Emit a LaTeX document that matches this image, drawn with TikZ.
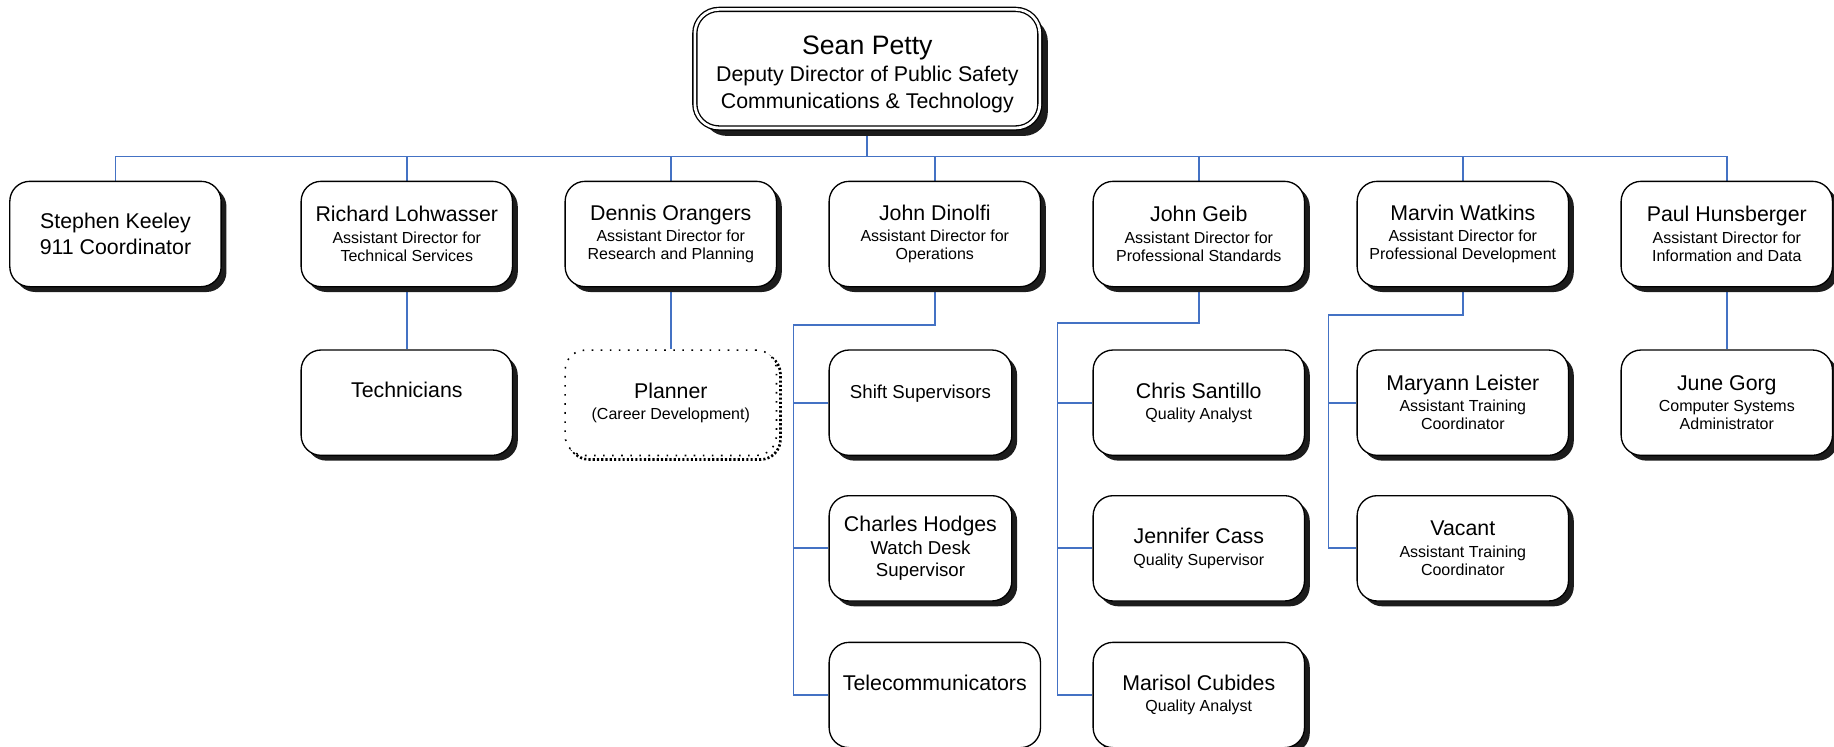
\documentclass[tikz,border=0pt]{standalone}
\usepackage{fontspec}
\setmainfont{Liberation Sans}
\usetikzlibrary{positioning,shadows,backgrounds}
\definecolor{linkcolor}{RGB}{68,114,196}
\definecolor{shadecolor}{RGB}{28,28,28}
\newcommand{\who}[1]{{\fontsize{16}{19}\selectfont #1}}

\begin{document}
\begin{tikzpicture}[
    postbox/.style={rectangle, rounded corners=15pt, draw, line width=1pt, fill=white,
        minimum width=158.5pt, minimum height=79pt, inner sep=0pt, align=center,
        font=\fontsize{12}{13.5}\selectfont},
    unit/.style={postbox,
        drop shadow={fill=shadecolor, opacity=1, shadow xshift=4pt, shadow yshift=-4pt}},
    head/.style={postbox, double, double distance=2pt, rounded corners=18pt,
        minimum width=258.75pt, minimum height=88.9pt, font=\fontsize{16}{20}\selectfont,
        drop shadow={fill=shadecolor, opacity=1, shadow xshift=6pt, shadow yshift=-6pt}},
    planned/.style={postbox, line width=1.2pt, dash pattern=on 1.2pt off 5.6pt,
        general shadow={draw=black, line width=2pt, dash pattern=on 1.6pt off 1.6pt,
        shadow xshift=3pt, shadow yshift=-3pt}},
    link/.style={draw=linkcolor, line width=1.3pt}
    ]

\useasboundingbox (0,0) rectangle (1375.5pt,-559.5pt);

\node[head] (petty) at (650.5pt,-51.5pt) {
	\mbox{}\\[2.4pt]
	{\fontsize{20}{24}\selectfont Sean Petty}\\[0.4pt]
	Deputy Director of Public Safety\\
	Communications \& Technology
};

% assistant directors
\node[unit, font=\fontsize{16}{19}\selectfont] (keeley) at (86.6pt,-175.5pt) {
	Stephen Keeley\\
	911 Coordinator
};
\node[unit] (lohwasser) [right=59pt of keeley] {
	\who{Richard Lohwasser}\\[2.5pt]
	Assistant Director for\\
	Technical Services
};
\node[unit] (orangers) [right=38.5pt of lohwasser] {
	\who{Dennis Orangers}\\[2.5pt]
	Assistant Director for\\
	Research and Planning
};
\node[unit] (dinolfi) [right=38.5pt of orangers] {
	\who{John Dinolfi}\\[2.5pt]
	Assistant Director for\\
	Operations
};
\node[unit] (geib) [right=38.5pt of dinolfi] {
	\who{John Geib}\\[2.5pt]
	Assistant Director for\\
	Professional Standards
};
\node[unit] (watkins) [right=38.5pt of geib] {
	\who{Marvin Watkins}\\[2.5pt]
	Assistant Director for\\
	Professional Development
};
\node[unit] (hunsberger) [right=38.5pt of watkins] {
	\who{Paul Hunsberger}\\[2.5pt]
	Assistant Director for\\
	Information and Data
};

% staff
\node[unit, font=\fontsize{16}{19}\selectfont] (technicians) [below=46.5pt of lohwasser] {
	Technicians\\
	\mbox{}
};
\node[planned] (planner) [below=46.5pt of orangers] {
	\who{Planner}\\[2pt]
	(Career Development)
};
\node[unit, minimum width=137pt, font=\fontsize{14}{17}\selectfont] (shiftsup)
	[below=46.5pt of dinolfi.south west, anchor=north west] {
	Shift Supervisors\\
	\mbox{}
};
\node[unit, minimum width=137pt, font=\fontsize{14}{17}\selectfont] (hodges)
	[below=29.25pt of shiftsup.south west, anchor=north west] {
	\who{Charles Hodges}\\
	Watch Desk\\
	Supervisor
};
\node[postbox, font=\fontsize{16}{19}\selectfont] (telecom)
	[below=30pt of hodges.south west, anchor=north west] {
	Telecommunicators\\
	\mbox{}
};
\node[unit] (santillo) [below=46.5pt of geib] {
	\who{Chris Santillo}\\[2.5pt]
	Quality Analyst
};
\node[unit] (cass) [below=29.25pt of santillo] {
	\who{Jennifer Cass}\\[2.5pt]
	Quality Supervisor
};
\node[unit] (cubides) [below=30pt of cass] {
	\who{Marisol Cubides}\\[2.5pt]
	Quality Analyst
};
\node[unit] (leister) [below=46.5pt of watkins] {
	\who{Maryann Leister}\\[2.5pt]
	Assistant Training\\
	Coordinator
};
\node[unit] (vacant) [below=29.25pt of leister] {
	\who{Vacant}\\[2.5pt]
	Assistant Training\\
	Coordinator
};
\node[unit] (gorg) [below=46.5pt of hunsberger] {
	\who{June Gorg}\\[2.5pt]
	Computer Systems\\
	Administrator
};

\begin{scope}[on background layer]
\coordinate[below=21pt of petty.south] (bus);
\draw[link] (petty.south) -- (bus);
\foreach \n in {keeley,lohwasser,orangers,dinolfi,geib,watkins,hunsberger}
	\draw[link] (bus) -| (\n.north);

\draw[link] (lohwasser.south) -- (technicians.north);
\draw[link] (orangers.south) -- (planner.north);
\draw[link] (hunsberger.south) -- (gorg.north);

\draw[link] (dinolfi.south) -- ++(0,-28.5pt) -| ([xshift=-26.25pt]telecom.west) -- (telecom.west);
\draw[link] ([xshift=-26.25pt]shiftsup.west) -- (shiftsup.west);
\draw[link] ([xshift=-26.25pt]hodges.west) -- (hodges.west);

\draw[link] (geib.south) -- ++(0,-27pt) -| ([xshift=-26.25pt]cubides.west) -- (cubides.west);
\draw[link] ([xshift=-26.25pt]santillo.west) -- (santillo.west);
\draw[link] ([xshift=-26.25pt]cass.west) -- (cass.west);

\draw[link] (watkins.south) -- ++(0,-21pt) -| ([xshift=-21pt]vacant.west) -- (vacant.west);
\draw[link] ([xshift=-21pt]leister.west) -- (leister.west);
\end{scope}

\end{tikzpicture}
\end{document}
